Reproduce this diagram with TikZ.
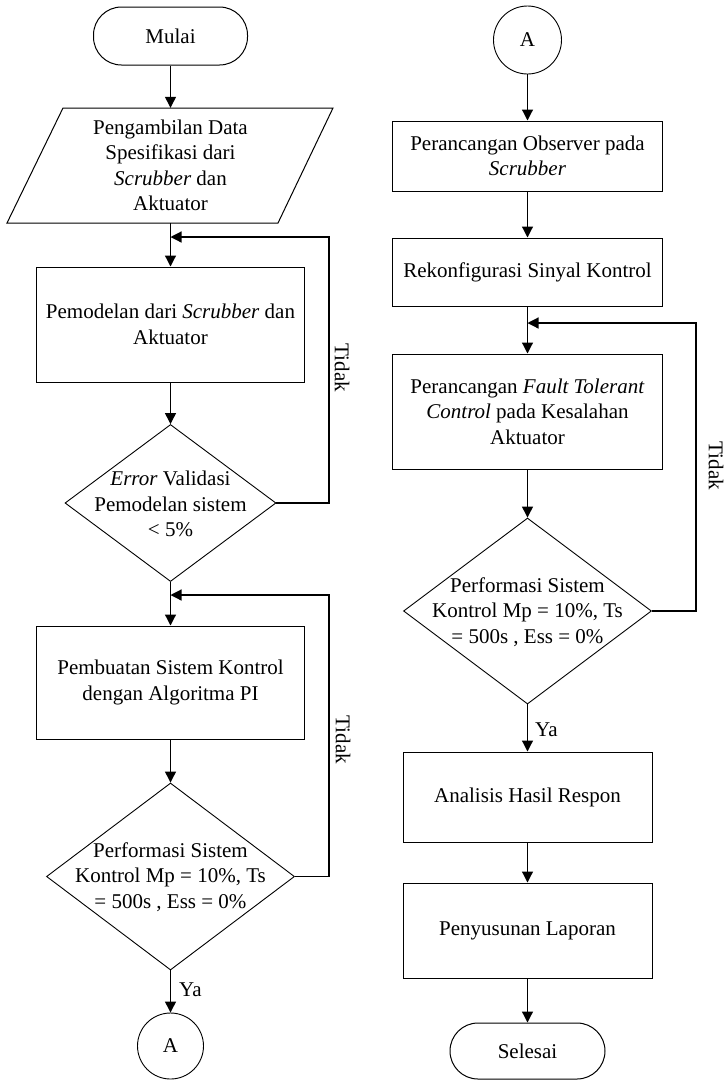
\documentclass[tikz,border=0pt]{standalone}
\usepackage{fontspec}
\setmainfont{Liberation Serif}
\usetikzlibrary{arrows.meta,shapes.geometric}
\begin{document}
\begin{tikzpicture}[x=1pt,y=-1pt,
  font=\fontsize{21}{25.5}\selectfont,
  box/.style={draw,line width=1pt,inner sep=0pt,align=center},
  term/.style={box,rounded corners=28pt},
  conn/.style={draw,circle,line width=0.9pt,inner sep=0pt},
  dec/.style={draw,diamond,line width=0.9pt,inner sep=0pt},
  txt/.style={inner sep=0pt,align=center},
  arr/.style={line width=1.2pt,-{Triangle[width=11pt,length=11pt]}},
  lbl/.style={inner sep=0pt}]
\useasboundingbox (0,0) rectangle (726,1080);
% ---------- left column ----------
\node[term,minimum width=154pt,minimum height=58pt] (m) at (170.5,36) {Mulai};
\draw[line width=1pt] (7,223) -- (63,108) -- (333,108) -- (278,223) -- cycle;
\node[txt,minimum height=115pt] (par) at (170.5,165.5) {Pengambilan Data\\Spesifikasi dari\\\textit{Scrubber} dan\\Aktuator};
\coordinate (j1) at (170.5,237);
\node[box,minimum width=268pt,minimum height=115pt] (r1) at (170.5,324.5) {Pemodelan dari \textit{Scrubber} dan\\Aktuator};
\node[dec,minimum width=211pt,minimum height=157pt] (d1) at (170.5,503) {};
\node[txt] (t1) at (170.5,504) {\textit{Error} Validasi\\Pemodelan sistem\\< 5\%};
\coordinate (j2) at (170.5,595);
\node[box,minimum width=268pt,minimum height=113pt] (r2) at (170.5,682.5) {Pembuatan Sistem Kontrol\\dengan Algoritma PI};
\node[dec,minimum width=248pt,minimum height=187pt] (d2) at (170.5,876.5) {};
\node[txt] (t2) at (170.5,877) {Performasi Sistem\\Kontrol Mp = 10\%, Ts\\= 500s , Ess = 0\%};
\node[conn,minimum size=66pt] (cA) at (170.5,1046) {A};
\coordinate (lx1) at (329,237);
\coordinate (lx2) at (329,595);
% ---------- right column ----------
\node[conn,minimum size=68pt] (cB) at (527.5,40) {A};
\node[box,minimum width=270pt,minimum height=70pt] (r3) at (527.5,156) {Perancangan Observer pada\\\textit{Scrubber}};
\node[box,minimum width=270pt,minimum height=68pt] (r4) at (527.5,272) {Rekonfigurasi Sinyal Kontrol};
\coordinate (j3) at (527.5,323);
\node[box,minimum width=270pt,minimum height=115pt] (r5) at (527.5,411.5) {Perancangan \textit{Fault Tolerant}\\\textit{Control} pada Kesalahan\\Aktuator};
\node[dec,minimum width=248pt,minimum height=186pt] (d3) at (527.5,611) {};
\node[txt] (t3) at (527.5,612) {Performasi Sistem\\Kontrol Mp = 10\%, Ts\\= 500s , Ess = 0\%};
\node[box,minimum width=249pt,minimum height=90pt] (r6) at (527.5,797) {Analisis Hasil Respon};
\node[box,minimum width=249pt,minimum height=95pt] (r7) at (527.5,930.5) {Penyusunan Laporan};
\node[term,minimum width=155pt,minimum height=56pt] (e) at (527.5,1051) {Selesai};
\coordinate (lx3) at (696,323);
% ---------- connectors ----------
\draw[arr] (m.south) -- (par.north);
\draw[arr] (par.south) -- (r1.north);
\draw[arr] (r1.south) -- (d1.north);
\draw[arr] (d1.east) -| (lx1) -- (j1);
\draw[arr] (d1.south) -- (r2.north);
\draw[arr] (r2.south) -- (d2.north);
\draw[arr] (d2.east) -| (lx2) -- (j2);
\draw[arr] (d2.south) -- (cA.north);
\draw[arr] (cB.south) -- (r3.north);
\draw[arr] (r3.south) -- (r4.north);
\draw[arr] (r4.south) -- (r5.north);
\draw[arr] (r5.south) -- (d3.north);
\draw[arr] (d3.east) -| (lx3) -- (j3);
\draw[arr] (d3.south) -- (r6.north);
\draw[arr] (r6.south) -- (r7.north);
\draw[arr] (r7.south) -- (e.north);
% ---------- labels ----------
\node[lbl,rotate=-90] (n1) at (342,368) {Tidak};
\node[lbl,rotate=-90] (n2) at (343,740) {Tidak};
\node[lbl,rotate=-90] (n3) at (716,466) {Tidak};
\node[lbl,anchor=west] (y1) at (179,990) {Ya};
\node[lbl,anchor=west] (y2) at (535,730) {Ya};
\end{tikzpicture}
\end{document}
